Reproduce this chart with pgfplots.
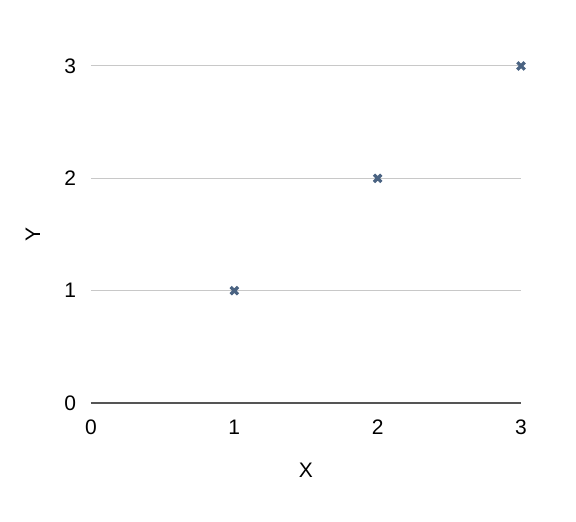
\documentclass[border=0pt]{standalone}
\usepackage{fontspec}
\setmainfont{Liberation Sans}
\usepackage{pgfplots}
\pgfplotsset{compat=1.18}
\definecolor{markc}{HTML}{4A6382}
\definecolor{gridc}{HTML}{C8C8C8}
\definecolor{axisc}{HTML}{555555}
\begin{document}
\begin{tikzpicture}
\useasboundingbox (-45.5pt,-59.5pt) rectangle (242.5pt,201.5pt);
\begin{axis}[
  at={(0,0)}, anchor=south west,
  scale only axis,
  width=215pt, height=168.5pt,
  xmin=0, xmax=3, ymin=0, ymax=3,
  xtick={0,1,2,3}, ytick={0,1,2,3},
  axis x line*=bottom,
  axis y line*=left,
  x axis line style={draw=axisc, line width=0.6pt, -},
  y axis line style={draw=none, -},
  major tick length=0pt,
  ymajorgrids,
  grid style={gridc, line width=0.5pt},
  ytick style={draw=none},
  xtick style={draw=none},
  yticklabel style={xshift=-4pt},
  xticklabel style={yshift=-5pt},
  tick label style={font=\fontsize{10.5}{12}\selectfont},
  label style={font=\fontsize{10.5}{12}\selectfont},
  xlabel={X}, ylabel={Y},
  xlabel style={at={(axis description cs:0.5,0)}, anchor=center, yshift=-33.5pt},
  ylabel style={at={(axis description cs:-0.135,0.5)}, anchor=center},
  /pgf/number format/assume math mode=true,
  clip=false,
]
\addplot[only marks, mark=x, mark size=2.6pt, markc, mark options={line width=1.6pt}]
  coordinates {(1,1) (2,2) (3,3)};
\end{axis}
\end{tikzpicture}
\end{document}
